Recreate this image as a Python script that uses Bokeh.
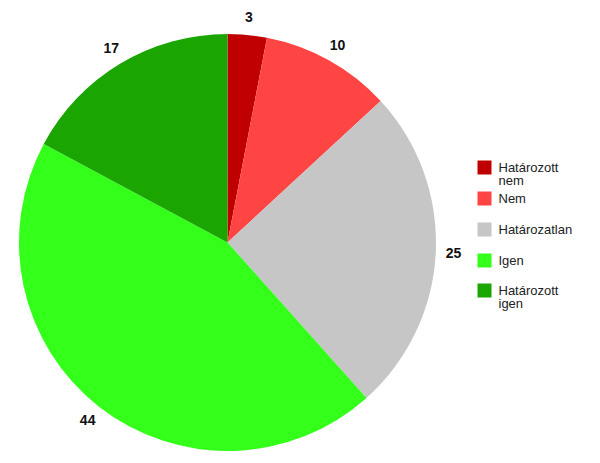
import math
from bokeh.plotting import figure
from bokeh.models import ColumnDataSource, Range1d
from bokeh.core.properties import value
from bokeh.embed import file_html
from bokeh.resources import INLINE

categories = ["Határozott nem", "Nem", "Határozatlan", "Igen", "Határozott igen"]
legend_lines = [["Határozott", "nem"], ["Nem"], ["Határozatlan"], ["Igen"], ["Határozott", "igen"]]
values = [3, 10, 25, 44, 17]
colors = ["#c00000", "#ff4444", "#c6c6c6", "#33ff1a", "#1aa500"]

W, H = 584, 455
PX = 208.5  # pixels per radius unit
cx_px, cy_px = 227.0, 242.0

p = figure(width=W, height=H, output_backend="svg", toolbar_location=None,
           x_range=Range1d(-cx_px / PX, (W - cx_px) / PX),
           y_range=Range1d(-(H - cy_px) / PX, cy_px / PX),
           min_border=0, outline_line_color=None)
p.axis.visible = False
p.grid.visible = False
p.background_fill_color = "white"
p.border_fill_color = "white"

total = sum(values)
starts, ends, mids = [], [], []
cum = 0
for v in values:
    a0 = math.pi / 2 - cum / total * 2 * math.pi
    cum += v
    a1 = math.pi / 2 - cum / total * 2 * math.pi
    starts.append(a0)
    ends.append(a1)
    mids.append((a0 + a1) / 2)

src = ColumnDataSource(dict(start=starts, end=ends, color=colors, cat=categories, val=values))
p.wedge(x=0, y=0, radius=1.0, start_angle="start", end_angle="end", direction="clock",
        fill_color="color", line_color=None, source=src)

rl = 1.085
lsrc = ColumnDataSource(dict(x=[rl * math.cos(m) for m in mids],
                             y=[rl * math.sin(m) for m in mids],
                             t=[str(v) for v in values]))
p.text(x="x", y="y", text="t", source=lsrc, text_font=value("Liberation Sans"),
       text_font_size="14px", text_font_style="bold", text_color="#111111",
       text_align="center", text_baseline="middle")

# legend (manual)
def px2x(x):
    return (x - cx_px) / PX

def px2y(y):
    return (cy_px - y) / PX

sq_x = 477.0
sq_ys = [160.0, 191.0, 222.0, 253.0, 283.0]
sq = 14.0
p.rect(x=[px2x(sq_x + sq / 2)] * len(colors), y=[px2y(y + sq / 2) for y in sq_ys],
       width=sq / PX, height=sq / PX, fill_color=colors, line_color=None)

tx, ty, tt = [], [], []
for y, lines in zip(sq_ys, legend_lines):
    for i, ln in enumerate(lines):
        tx.append(px2x(sq_x + 21))
        ty.append(px2y(y + sq / 2 + i * 13))
        tt.append(ln)
p.text(x=tx, y=ty, text=tt, text_font=value("Liberation Sans"), text_font_size="13px",
       text_color="#222222", text_align="left", text_baseline="middle")

open("out.html", "w").write(file_html(p, INLINE))
